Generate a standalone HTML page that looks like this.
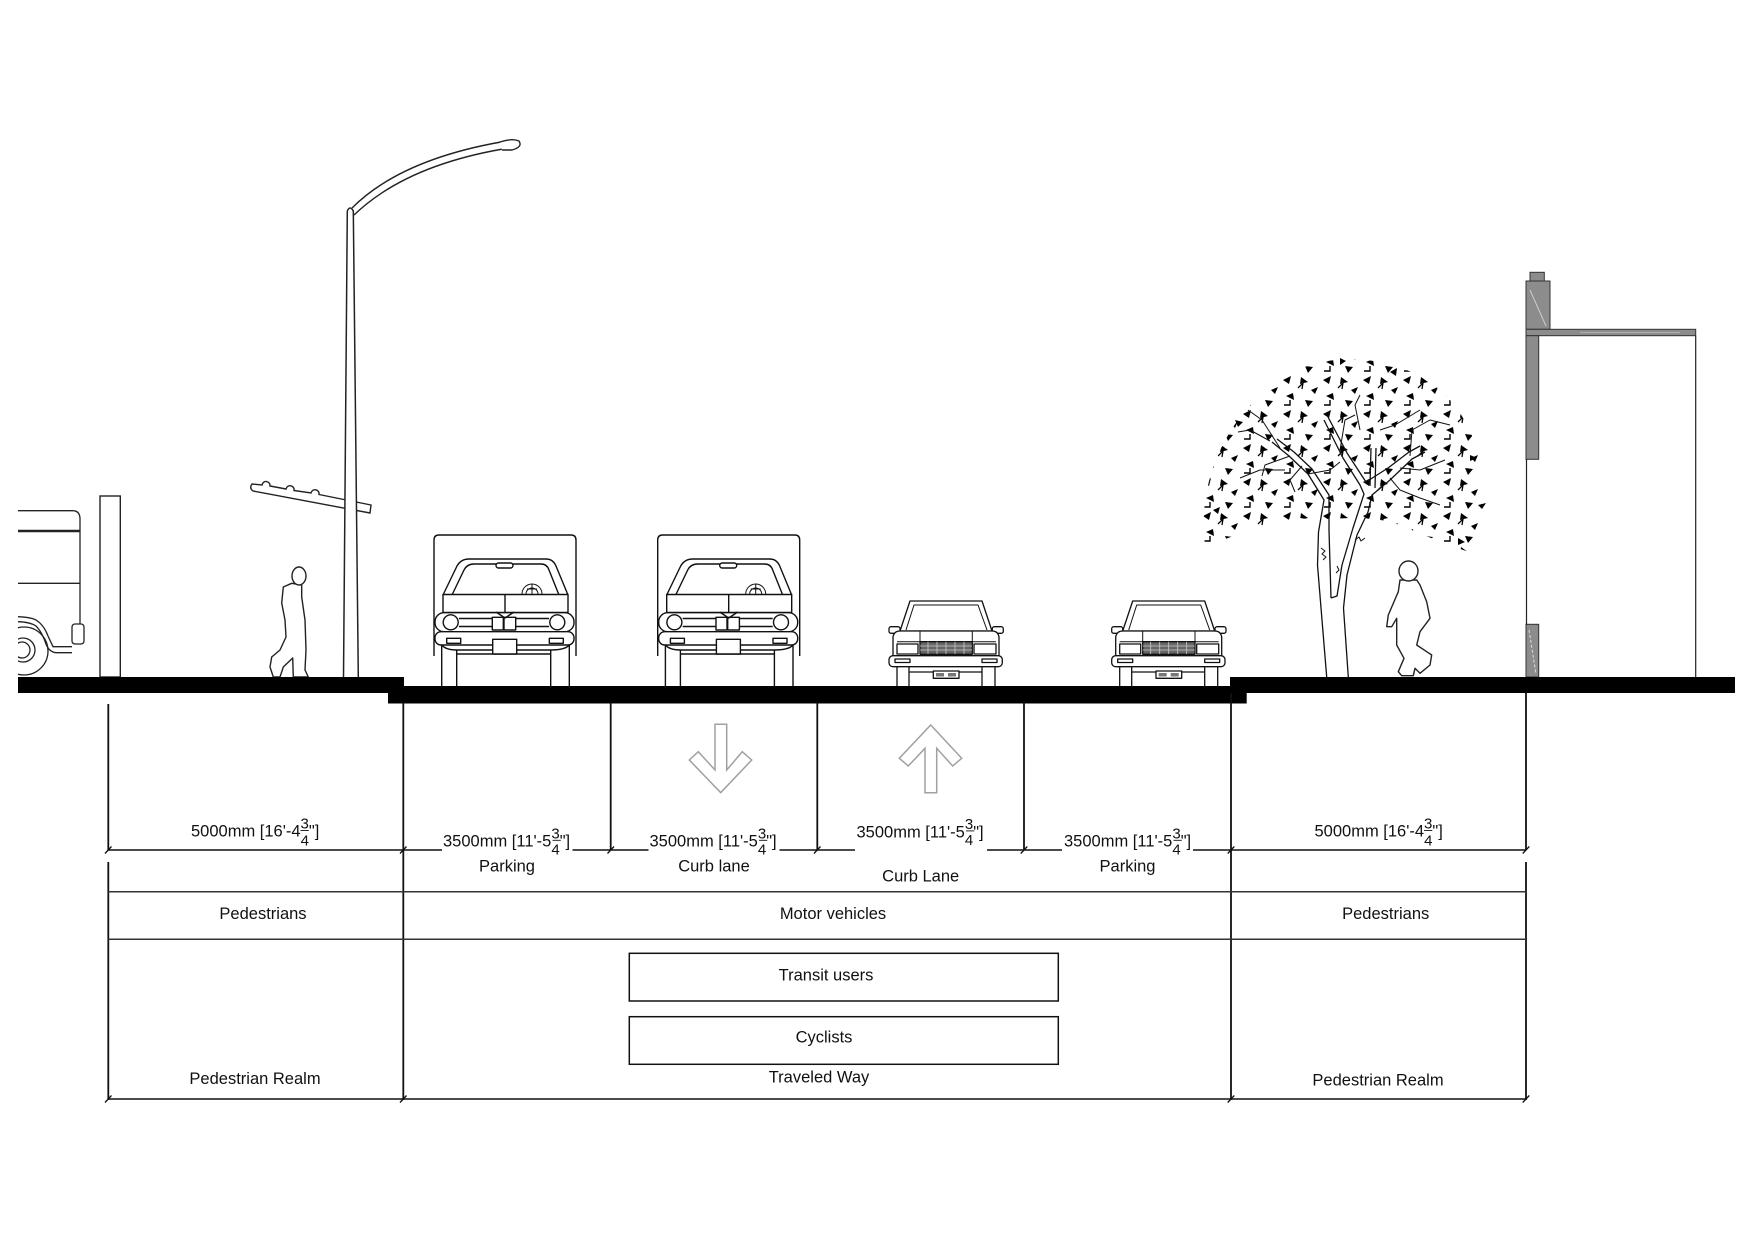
<!DOCTYPE html>
<html><head><meta charset="utf-8"><style>html,body{margin:0;padding:0;background:#fff;overflow:hidden}svg{display:block}</style></head>
<body>
<svg width="1755" height="1240" viewBox="0 0 1755 1240" xmlns="http://www.w3.org/2000/svg" font-family="'Liberation Sans', Arial, sans-serif">
<defs>
  <clipPath id="busclip"><rect x="18" y="400" width="200" height="280"/></clipPath>
  <pattern id="lv" width="40" height="34" patternUnits="userSpaceOnUse">
    <path d="M3,6 l8,-4 l-2,8 z"/>
    <path d="M21,3 l7,5 l-8,2 z"/>
    <path d="M31,16 l7,-3 l-3,7 z"/>
    <path d="M13,19 l-7,3 l8,4 z"/>
    <path d="M25,26 l8,1 l-5,6 z"/>
    <path d="M4,31 h6 v-5" fill="none" stroke="#000" stroke-width="1.4"/>
    <path d="M18,14 l5,-5 l-1,6" fill="none" stroke="#000" stroke-width="1.3"/>
  </pattern>
  <g id="truck" stroke="#111" stroke-width="1.4" fill="#fff" stroke-linejoin="round">
    <path d="M434,656 V540 Q434,535 439,535 H571 Q576,535 576,540 V656"/>
    <path d="M443,595 L457,566 Q461,559 469,559 H546 Q553,559 556,566 L568,595" fill="none"/>
    <path d="M452,595 L464,570 Q467,564 474,564 H541 Q547,564 549,570 L559,595" fill="none"/>
    <rect x="496" y="563" width="17" height="5" rx="2.5"/>
    <path d="M522,594 A10,10 0 0 1 542,594 M526,594 A6,6 0 0 1 538,594 M532,584 V594 M527,589 H537" fill="none" stroke-width="1"/>
    <rect x="443" y="594.5" width="125" height="18"/>
    <line x1="505" y1="594.5" x2="505" y2="612.5"/>
    <rect x="435" y="612.7" width="139" height="19" rx="9"/>
    <line x1="459" y1="618.5" x2="549" y2="618.5"/>
    <line x1="459" y1="626.5" x2="549" y2="626.5"/>
    <circle cx="450.7" cy="622.3" r="7.5"/>
    <circle cx="557.3" cy="622.3" r="7.5"/>
    <rect x="492.3" y="617.3" width="11" height="12.7"/>
    <rect x="504" y="617.3" width="11.7" height="12.7"/>
    <path d="M496,612 L505,618 L514,612" fill="none"/>
    <path d="M441.7,645 Q446,650 456.7,650 H550.7 Q565,650 569.3,645" fill="none"/>
    <line x1="456.7" y1="654" x2="550.7" y2="654"/>
    <rect x="435" y="631.7" width="139" height="13.3" rx="6"/>
    <rect x="446.7" y="638.3" width="14" height="5"/>
    <rect x="549.3" y="638.3" width="14" height="5"/>
    <rect x="492.7" y="639.3" width="24" height="14.7"/>
    <path d="M441.7,645 V686 M456.7,650 V686 M550.7,650 V686 M569.3,645 V686" fill="none"/>
  </g>
  <g id="car" stroke="#111" stroke-width="1.3" fill="#fff" stroke-linejoin="round">
    <path d="M900,631 L910,601 H982 L992,631 Z"/>
    <path d="M906,630 L914,605 H978 L987,630" fill="none" stroke-width="1"/>
    <rect x="889" y="626.7" width="11" height="6.6" rx="2"/>
    <rect x="992.3" y="626.7" width="11" height="6.6" rx="2"/>
    <path d="M893,656 V637 Q894,631 900,631 H992 Q998,631 999,637 V656 Z"/>
    <path d="M897,641.7 H996 M920,631 V641.7 M972.3,631 V641.7" fill="none" stroke-width="1"/>
    <rect x="920" y="641.7" width="52.3" height="12.6" fill="#666"/>
    <path d="M920,646 H972 M920,650 H972 M928,641.7 V654 M937,641.7 V654 M946,641.7 V654 M955,641.7 V654 M964,641.7 V654" stroke="#ccc" stroke-width="0.8" fill="none"/>
    <rect x="897" y="644" width="21" height="10"/>
    <rect x="974" y="644" width="22" height="10"/>
    <path d="M897,667 V686 M909,667 V686 M982,667 V686 M995,667 V686 M909,672 H982" fill="none"/>
    <rect x="889" y="655.7" width="113.3" height="11" rx="4"/>
    <rect x="895" y="659" width="15" height="3.5"/>
    <rect x="982" y="659" width="15" height="3.5"/>
    <rect x="933.3" y="671" width="25.7" height="7.3"/>
    <rect x="936" y="673" width="8" height="3.5" fill="#777" stroke="none"/>
    <rect x="948" y="673" width="8" height="3.5" fill="#777" stroke="none"/>
  </g>
</defs>

<!-- Bus -->
<g clip-path="url(#busclip)" stroke="#222" stroke-width="1.3" fill="none">
  <path d="M10,510.7 H73 Q80,511 80,519 V626"/>
  <line x1="10" y1="531" x2="80" y2="531" stroke-width="2.5"/>
  <line x1="10" y1="583.3" x2="80" y2="583.3"/>
  <path d="M10,616.7 L18,616.7 Q30,617 36,620 Q44,625 48,636 L53,646.7 H72"/>
  <path d="M10,621.7 L18,621.7 Q30,622 36,626 Q42,632 46,644 Q49,652 56,652.7 H72"/>
  <rect x="72" y="624" width="12" height="20" rx="3" fill="#fff"/>
  <circle cx="24" cy="651" r="24"/>
  <circle cx="23" cy="650" r="12"/>
  <circle cx="22" cy="650" r="8"/>
</g>
<!-- bollard -->
<rect x="100" y="496" width="20.3" height="181" fill="#fff" stroke="#222" stroke-width="1.4"/>

<!-- left pedestrian -->
<path d="M291.7,583.3 L283.3,587 L281.7,603 L285,620 L286,637 L280,650 L271.7,657 L270,667 L273.3,677 L280,677 L283.3,667 L292.7,658 L293.3,677 L308.3,677 L305,670 L306,650 L305,620 L301.7,597 L301.7,585 Z" fill="#fff" stroke="#222" stroke-width="1.4" stroke-linejoin="round"/>
<ellipse cx="299" cy="576" rx="7" ry="9" fill="#fff" stroke="#222" stroke-width="1.4"/>

<!-- lamp bracket -->
<path d="M252,484 L262,485 A4,4 0 0 1 270,486 L286,489 A4,4 0 0 1 294,490.5 L311,493 A4,4 0 0 1 319,494.5 L371,505 L370,513 L253,491 Q249,488 252,484 Z" fill="#fff" stroke="#222" stroke-width="1.4"/>
<!-- lamp pole -->
<path d="M343.5,677 L347.3,211 Q350,205 353.3,211 L358.3,677" fill="#fff" stroke="#222" stroke-width="1.5"/>
<path d="M352,208 Q400,160 501,142" fill="none" stroke="#222" stroke-width="1.4"/>
<path d="M354,215 Q405,166 503,149" fill="none" stroke="#222" stroke-width="1.4"/>
<path d="M500,142 Q512,138 519,141 Q523,147 512,150 L502,150" fill="#fff" stroke="#222" stroke-width="1.4"/>

<!-- trucks -->
<use href="#truck"/>
<use href="#truck" transform="translate(223.7,0)"/>
<!-- cars -->
<use href="#car"/>
<use href="#car" transform="translate(222.7,0)"/>

<!-- tree foliage -->
<path d="M1205,545 C1195,470 1240,390 1310,365 C1360,350 1420,365 1450,400 C1485,440 1492,500 1470,552 C1430,540 1400,522 1380,520 C1350,515 1320,522 1300,518 C1260,522 1230,540 1205,545 Z" fill="url(#lv)"/>
<g>
  <path d="M1390,372 l7,-4 l-1,8 z"/>
  <path d="M1235,420 l8,2 l-5,5 z"/>
  <path d="M1470,455 l7,3 l-7,3 z"/>
  <path d="M1478,505 l8,-2 l-4,6 z"/>
  <path d="M1458,538 l7,4 l-7,3 z"/>
  <path d="M1340,358 l6,3 l-6,4 z"/>
  <path d="M1213,510 l7,-3 l-2,7 z"/>
</g>
<!-- tree trunk & branches -->
<g fill="none" stroke="#111" stroke-width="1.3" stroke-linejoin="round">
  <path d="M1326.7,677 L1322,620 L1317.5,565 L1318.5,532 L1324,500 L1308,474 L1289,456 L1272,442"/>
  <path d="M1277,439 L1294,452 L1312,469 L1329,495 L1329,530 L1331,598"/>
  <path d="M1331,598 L1337,596 L1342,565 L1353,528 L1364,494 L1360,485 L1343,458 L1324,420"/>
  <path d="M1328,417 L1347,453 L1366,482"/>
  <path d="M1348.3,677 L1343.5,608 L1347,575 L1357,535 L1368,512 L1372,495 L1390,480 L1412,459 L1425,452"/>
  <path d="M1366,482 L1388,468 L1409,452 L1420,446"/>
  <path d="M1370,486 L1371,448 M1375,488 L1376,448"/>
  <path d="M1290,456 L1265,465 L1262,476 M1270,441 L1250,430 L1238,432 M1280,448 L1262,420 L1248,410 M1308,474 L1330,470 L1340,462 M1340,450 L1345,420 L1355,415 M1390,478 L1400,490 L1420,498 L1440,505 M1400,468 L1420,470 L1445,460 M1410,456 L1412,430 L1430,420 L1450,425 M1380,430 L1395,425 L1420,410 M1360,430 L1355,405 L1360,395 M1240,478 L1260,470 L1285,470 M1302,466 L1290,480 L1295,492" stroke-width="1"/>
  <path d="M1321,548 l4,3 l-3,3 l4,3 l-3,3 M1355,540 l4,-3 l2,4 l4,-3 M1337,566 l2,4 l-3,3" stroke-width="1"/>
</g>

<!-- right pedestrian -->
<path d="M1400,580 L1398.3,591.7 L1388.3,615 L1386.7,626.7 L1391.7,626.7 L1396.7,618.3 L1396.7,645 L1404,658.3 L1398.3,671.7 L1401.7,675.7 L1413.3,675.7 L1415,668.3 L1420,673.3 L1430,665 L1431.7,655 L1426.7,651.7 L1416.7,645 L1420,631.7 L1430,618.3 L1426.7,601.7 L1420,585 L1416.7,580 Z" fill="#fff" stroke="#222" stroke-width="1.4" stroke-linejoin="round"/>
<ellipse cx="1408.5" cy="571" rx="9.5" ry="10" fill="#fff" stroke="#222" stroke-width="1.4"/>

<!-- building -->
<g stroke="#333" stroke-width="1">
  <rect x="1530" y="272.3" width="14.3" height="9" fill="#8c8c8c"/>
  <rect x="1526" y="281" width="24" height="48.3" fill="#8c8c8c"/>
  <line x1="1530" y1="290" x2="1546" y2="326" stroke="#ccc"/>
  <rect x="1526" y="329.3" width="169.7" height="6.4" fill="#8c8c8c"/>
  <line x1="1580" y1="332.5" x2="1680" y2="332.5" stroke="#bbb" stroke-width="0.8"/>
  <rect x="1526" y="335.7" width="12.7" height="123.6" fill="#8c8c8c"/>
  <rect x="1526" y="624.3" width="12.7" height="52.7" fill="#8c8c8c"/>
  <line x1="1529" y1="630" x2="1536" y2="674" stroke="#ddd" stroke-dasharray="3,2"/>
</g>
<line x1="1526.5" y1="459" x2="1526.5" y2="625" stroke="#222" stroke-width="1.2"/>
<line x1="1695.7" y1="335.7" x2="1695.7" y2="677" stroke="#222" stroke-width="1.2"/>

<!-- ground bars -->
<rect x="18" y="677" width="386" height="16" fill="#000"/>
<rect x="388" y="686" width="858.7" height="17.5" fill="#000"/>
<rect x="1230" y="677" width="505" height="16" fill="#000"/>

<!-- lane arrows -->
<path d="M715,724.3 H726.7 V770 L742.3,751.7 L751.7,760 L720.7,792.7 L689.3,760 L698.3,751.7 L715,770 Z" fill="none" stroke="#a0a0a0" stroke-width="1.5" stroke-linejoin="miter"/>
<path d="M925,792.7 H936.7 V748.3 L952.7,766 L961.7,758.3 L930.7,725 L899.3,758.3 L908.3,766 L925,748.3 Z" fill="none" stroke="#a0a0a0" stroke-width="1.5" stroke-linejoin="miter"/>

<!-- vertical dimension lines -->
<g stroke="#111" stroke-width="1.8">
  <line x1="108.3" y1="704" x2="108.3" y2="850"/>
  <line x1="108.3" y1="862" x2="108.3" y2="1100"/>
  <line x1="403.3" y1="703" x2="403.3" y2="1100"/>
  <line x1="610.7" y1="703" x2="610.7" y2="850"/>
  <line x1="817.3" y1="703" x2="817.3" y2="850"/>
  <line x1="1024" y1="703" x2="1024" y2="850"/>
  <line x1="1231" y1="693" x2="1231" y2="1100"/>
  <line x1="1526" y1="693" x2="1526" y2="850"/>
  <line x1="1526" y1="862" x2="1526" y2="1100"/>
</g>
<!-- horizontal dimension lines -->
<g stroke="#111" stroke-width="1.5">
  <line x1="108.3" y1="850" x2="403.3" y2="850"/>
  <line x1="403.3" y1="850" x2="442" y2="850"/>
  <line x1="572.5" y1="850" x2="610.7" y2="850"/>
  <line x1="610.7" y1="850" x2="648.5" y2="850"/>
  <line x1="779.5" y1="850" x2="817.3" y2="850"/>
  <line x1="817.3" y1="850" x2="855" y2="850"/>
  <line x1="987" y1="850" x2="1024" y2="850"/>
  <line x1="1024" y1="850" x2="1062" y2="850"/>
  <line x1="1193" y1="850" x2="1231" y2="850"/>
  <line x1="1231" y1="850" x2="1526" y2="850"/>
  <line x1="108.3" y1="1099" x2="1526" y2="1099"/>
</g>
<g stroke="#333" stroke-width="1.5">
  <line x1="108.3" y1="891.7" x2="1526" y2="891.7"/>
  <line x1="108.3" y1="939.3" x2="1526" y2="939.3"/>
</g>
<!-- ticks -->
<g stroke="#111" stroke-width="1.3">
  <path d="M105,853.5 L111.5,846.5 M400,853.5 L406.5,846.5 M607.5,853.5 L614,846.5 M814,853.5 L820.5,846.5 M1020.7,853.5 L1027.3,846.5 M1227.7,853.5 L1234.3,846.5 M1522.7,853.5 L1529.3,846.5"/>
  <path d="M105,1102.5 L111.5,1095.5 M400,1102.5 L406.5,1095.5 M1227.7,1102.5 L1234.3,1095.5 M1522.7,1102.5 L1529.3,1095.5"/>
</g>

<!-- boxes -->
<rect x="629.3" y="953.3" width="429" height="47.7" fill="none" stroke="#111" stroke-width="1.5"/>
<rect x="629.3" y="1016.7" width="429" height="47.6" fill="none" stroke="#111" stroke-width="1.5"/>

<!-- texts -->
<g font-size="16.5" fill="#111">
  <text x="191" y="836.7">5000mm [16'-4<tspan font-size="15" dy="-8.4">3</tspan><tspan font-size="15" dx="-8.3" dy="17">4</tspan><tspan dy="-8.6">"]</tspan></text>
  <text x="1314.5" y="836.7">5000mm [16'-4<tspan font-size="15" dy="-8.4">3</tspan><tspan font-size="15" dx="-8.3" dy="17">4</tspan><tspan dy="-8.6">"]</tspan></text>
  <text x="443" y="846.7">3500mm [11'-5<tspan font-size="15" dy="-8.4">3</tspan><tspan font-size="15" dx="-8.3" dy="16">4</tspan><tspan dy="-7.6">"]</tspan></text>
  <text x="649.5" y="846.7">3500mm [11'-5<tspan font-size="15" dy="-8.4">3</tspan><tspan font-size="15" dx="-8.3" dy="16">4</tspan><tspan dy="-7.6">"]</tspan></text>
  <text x="856.5" y="837.3">3500mm [11'-5<tspan font-size="15" dy="-8.4">3</tspan><tspan font-size="15" dx="-8.3" dy="16">4</tspan><tspan dy="-7.6">"]</tspan></text>
  <text x="1064" y="846.7">3500mm [11'-5<tspan font-size="15" dy="-8.4">3</tspan><tspan font-size="15" dx="-8.3" dy="16">4</tspan><tspan dy="-7.6">"]</tspan></text>
  <g text-anchor="middle">
    <text x="507" y="871.7">Parking</text>
    <text x="714" y="871.7">Curb lane</text>
    <text x="920.7" y="881.7">Curb Lane</text>
    <text x="1127.5" y="871.7">Parking</text>
    <text x="263" y="919">Pedestrians</text>
    <text x="833" y="919">Motor vehicles</text>
    <text x="1385.7" y="919">Pedestrians</text>
    <text x="826" y="980.7">Transit users</text>
    <text x="824" y="1042.7">Cyclists</text>
    <text x="255" y="1084">Pedestrian Realm</text>
    <text x="819" y="1082.7">Traveled Way</text>
    <text x="1378" y="1085.7">Pedestrian Realm</text>
  </g>
</g>
<!-- fraction bars -->
<g stroke="#111" stroke-width="0.9">
  <line x1="300.5" y1="830.5" x2="308.8" y2="830.5"/>
  <line x1="1424" y1="830.5" x2="1432.3" y2="830.5"/>
  <line x1="552.5" y1="840.3" x2="560.8" y2="840.3"/>
  <line x1="759" y1="840.3" x2="767.3" y2="840.3"/>
  <line x1="966" y1="830.9" x2="974.3" y2="830.9"/>
  <line x1="1173.5" y1="840.3" x2="1181.8" y2="840.3"/>
</g>
</svg>
</body></html>
